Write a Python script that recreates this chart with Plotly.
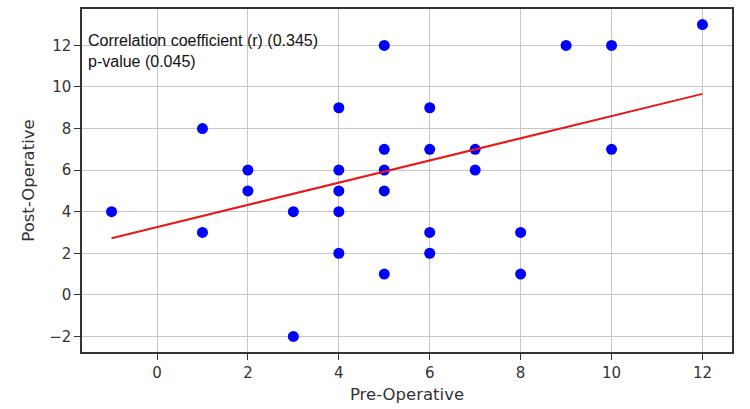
import numpy as np
import plotly.graph_objects as go

# Data
pre_operative = [-1, 1, 1, 2, 2, 3, 3, 4, 4, 4, 4, 4, 5, 5, 5, 5, 5,
                 6, 6, 6, 6, 7, 7, 8, 8, 9, 10, 10, 12]
post_operative = [4, 8, 3, 6, 5, 4, -2, 9, 6, 5, 4, 2, 12, 7, 6, 5, 1,
                  9, 7, 3, 2, 7, 6, 3, 1, 12, 12, 7, 13]

# Regression line parameters as drawn in the reference
fit_slope = 0.534
fit_intercept = 3.26

stats_text = ["Correlation coefficient (r) (0.345)", "p-value (0.045)"]

x_ticks = [0, 2, 4, 6, 8, 10, 12]
y_ticks = [-2, 0, 2, 4, 6, 8, 10, 12]
y_tick_labels = ["\u22122", "0", "2", "4", "6", "8", "10", "12"]

fit_x = np.array([min(pre_operative), max(pre_operative)], dtype=float)
fit_y = fit_intercept + fit_slope * fit_x

fig = go.Figure()
fig.add_trace(go.Scatter(
    x=pre_operative, y=post_operative, mode="markers",
    marker=dict(color="#0000ff", size=11, line=dict(width=0)),
    showlegend=False,
))
fig.add_trace(go.Scatter(
    x=fit_x, y=fit_y, mode="lines",
    line=dict(color="#e8191a", width=2),
    showlegend=False,
))

fig.add_annotation(
    x=0, y=1, xref="paper", yref="paper", xanchor="left", yanchor="top",
    xshift=4, yshift=-21,
    text="<br>".join(stats_text), showarrow=False, align="left",
    font=dict(family="Liberation Sans, Arial, sans-serif", size=16, color="#111"),
)

tick_font = dict(family="DejaVu Sans, sans-serif", size=15, color="#333")
title_font = dict(family="DejaVu Sans, sans-serif", size=16.5, color="#333")

axis_common = dict(
    showgrid=True, gridcolor="#c6c6c6", gridwidth=1.3,
    zeroline=False, showline=True, linecolor="#333", linewidth=1.5,
    mirror=True, ticks="outside", ticklen=6, tickcolor="#333", tickwidth=1,
    tickfont=tick_font,
)

fig.update_layout(
    width=750, height=409,
    margin=dict(l=82, r=18, t=7, b=57),
    paper_bgcolor="white", plot_bgcolor="white",
    xaxis=dict(
        range=[-1.65, 12.65], tickmode="array", tickvals=x_ticks,
        title=dict(text="Pre-Operative", standoff=8, font=title_font),
        **axis_common,
    ),
    yaxis=dict(
        range=[-2.75, 13.75], tickmode="array", tickvals=y_ticks,
        ticktext=y_tick_labels,
        title=dict(text="Post-Operative", standoff=10, font=title_font),
        **axis_common,
    ),
)

fig.write_html("out.html")
